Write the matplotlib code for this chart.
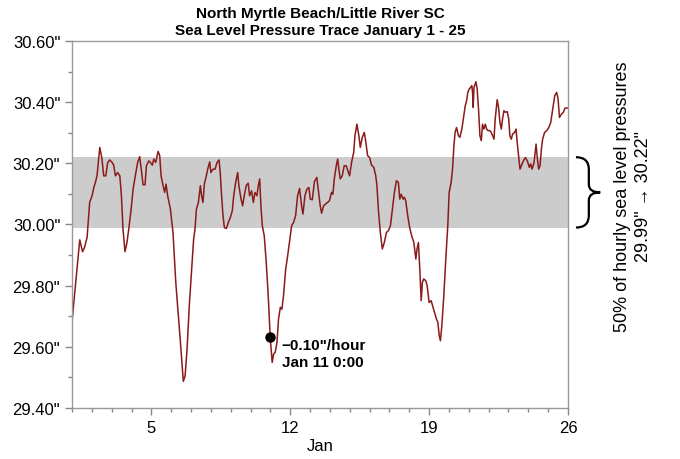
import numpy as np
import matplotlib
matplotlib.use("Agg")
import matplotlib.pyplot as plt
from matplotlib.path import Path
from matplotlib.patches import PathPatch
from matplotlib.transforms import blended_transform_factory

plt.rcParams['font.family'] = ['Liberation Sans', 'DejaVu Sans']

# hourly sea level pressure trace, day of January
days = [
    1.00, 1.39, 1.53, 1.63, 1.76, 1.89, 2.01, 2.10, 2.18, 2.26, 2.40, 2.50,
    2.60, 2.70, 2.80, 2.90, 3.02, 3.10, 3.19, 3.30, 3.41, 3.49, 3.57, 3.67,
    3.77, 3.86, 3.98, 4.08, 4.19, 4.31, 4.41, 4.51, 4.58, 4.68, 4.75, 4.87,
    4.95, 5.05, 5.12, 5.22, 5.29, 5.34, 5.42, 5.49, 5.59, 5.67, 5.74, 5.82,
    5.96, 6.09, 6.23, 6.36, 6.49, 6.61, 6.70, 6.80, 6.91, 7.03, 7.13, 7.20,
    7.27, 7.37, 7.47, 7.53, 7.60, 7.67, 7.77, 7.84, 7.94, 8.00, 8.11, 8.21,
    8.31, 8.41, 8.47, 8.54, 8.61, 8.68, 8.78, 8.88, 8.98, 9.08, 9.15, 9.25,
    9.35, 9.41, 9.52, 9.60, 9.68, 9.78, 9.88, 9.95, 10.05, 10.14, 10.22, 10.32,
    10.39, 10.46, 10.52, 10.59, 10.69, 10.79, 10.89, 10.99, 11.09, 11.16, 11.24, 11.33,
    11.41, 11.50, 11.58, 11.66, 11.77, 11.87, 11.97, 12.07, 12.17, 12.27, 12.37, 12.47,
    12.57, 12.64, 12.74, 12.84, 12.94, 13.01, 13.11, 13.22, 13.34, 13.41, 13.51, 13.58,
    13.68, 13.78, 13.88, 13.98, 14.08, 14.15, 14.22, 14.32, 14.39, 14.45, 14.52, 14.62,
    14.72, 14.82, 14.93, 14.99, 15.09, 15.20, 15.26, 15.36, 15.46, 15.53, 15.63, 15.73,
    15.80, 15.90, 16.00, 16.10, 16.21, 16.31, 16.37, 16.44, 16.54, 16.64, 16.74, 16.85,
    16.95, 17.05, 17.15, 17.25, 17.35, 17.45, 17.52, 17.59, 17.69, 17.75, 17.82, 17.92,
    18.02, 18.12, 18.23, 18.33, 18.39, 18.46, 18.53, 18.60, 18.66, 18.73, 18.83, 18.90,
    19.00, 19.10, 19.20, 19.30, 19.37, 19.44, 19.51, 19.57, 19.64, 19.74, 19.84, 19.94,
    20.01, 20.11, 20.18, 20.25, 20.31, 20.38, 20.48, 20.55, 20.65, 20.75, 20.82, 20.89,
    20.95, 21.02, 21.09, 21.15, 21.19, 21.22, 21.26, 21.36, 21.42, 21.49, 21.56, 21.63,
    21.69, 21.76, 21.83, 21.90, 21.96, 22.06, 22.13, 22.20, 22.27, 22.33, 22.43, 22.50,
    22.57, 22.64, 22.70, 22.77, 22.84, 22.94, 23.01, 23.07, 23.14, 23.21, 23.31, 23.38,
    23.44, 23.51, 23.58, 23.65, 23.75, 23.85, 23.95, 24.05, 24.12, 24.19, 24.29, 24.39,
    24.45, 24.52, 24.59, 24.66, 24.72, 24.82, 24.93, 25.03, 25.13, 25.23, 25.33, 25.43,
    25.50, 25.57, 25.67, 25.77, 25.84, 25.90, 26.00,
]
pressure = [
    29.682, 29.950, 29.911, 29.925, 29.958, 30.072, 30.094, 30.121, 30.138, 30.159, 30.252, 30.219,
    30.159, 30.159, 30.203, 30.211, 30.203, 30.194, 30.159, 30.170, 30.159, 30.094, 29.985, 29.911,
    29.941, 29.985, 30.050, 30.116, 30.159, 30.203, 30.222, 30.170, 30.130, 30.130, 30.192, 30.208,
    30.203, 30.194, 30.214, 30.203, 30.225, 30.239, 30.225, 30.159, 30.127, 30.105, 30.132, 30.094,
    30.050, 29.974, 29.811, 29.702, 29.593, 29.487, 29.505, 29.593, 29.734, 29.854, 29.952, 29.985,
    30.050, 30.072, 30.127, 30.094, 30.072, 30.132, 30.159, 30.181, 30.205, 30.170, 30.181, 30.181,
    30.203, 30.211, 30.170, 30.094, 30.029, 29.990, 29.987, 30.007, 30.023, 30.045, 30.094, 30.138,
    30.170, 30.127, 30.083, 30.061, 30.094, 30.127, 30.135, 30.094, 30.110, 30.072, 30.105, 30.094,
    30.127, 30.149, 30.061, 29.997, 29.963, 29.876, 29.767, 29.631, 29.549, 29.576, 29.582, 29.614,
    29.691, 29.729, 29.723, 29.767, 29.854, 29.898, 29.947, 29.996, 30.007, 30.029, 30.094, 30.118,
    30.061, 30.034, 30.094, 30.116, 30.121, 30.083, 30.081, 30.140, 30.154, 30.116, 30.061, 30.037,
    30.061, 30.067, 30.072, 30.078, 30.105, 30.099, 30.149, 30.192, 30.214, 30.181, 30.149, 30.159,
    30.192, 30.192, 30.170, 30.159, 30.203, 30.236, 30.290, 30.328, 30.290, 30.252, 30.285, 30.301,
    30.274, 30.225, 30.219, 30.194, 30.187, 30.159, 30.127, 30.050, 29.974, 29.920, 29.941, 29.974,
    29.980, 29.996, 30.050, 30.105, 30.143, 30.138, 30.083, 30.099, 30.083, 30.089, 30.078, 30.029,
    29.990, 29.963, 29.941, 29.887, 29.920, 29.941, 29.854, 29.751, 29.811, 29.822, 29.816, 29.800,
    29.745, 29.751, 29.729, 29.707, 29.691, 29.680, 29.636, 29.620, 29.669, 29.767, 29.887, 29.996,
    30.105, 30.138, 30.181, 30.258, 30.301, 30.317, 30.290, 30.285, 30.312, 30.356, 30.388, 30.405,
    30.432, 30.443, 30.448, 30.454, 30.432, 30.383, 30.448, 30.467, 30.443, 30.377, 30.290, 30.274,
    30.328, 30.312, 30.328, 30.312, 30.307, 30.307, 30.301, 30.290, 30.279, 30.345, 30.408, 30.383,
    30.334, 30.312, 30.345, 30.372, 30.367, 30.369, 30.345, 30.290, 30.279, 30.296, 30.301, 30.312,
    30.268, 30.225, 30.181, 30.192, 30.208, 30.219, 30.208, 30.187, 30.198, 30.181, 30.203, 30.263,
    30.219, 30.181, 30.192, 30.247, 30.279, 30.301, 30.307, 30.317, 30.334, 30.377, 30.421, 30.432,
    30.410, 30.350, 30.361, 30.367, 30.380, 30.381, 30.381,
]

# middle 50% of hourly pressures
band_low = 29.99
band_high = 30.22

# steepest drop marker
drop_day = 11.0
drop_value = 29.632
drop_text = '\u22120.10"/hour\nJan 11 0:00'

xticks_major = [5, 12, 19, 26]
yticks_major = [29.40, 29.60, 29.80, 30.00, 30.20, 30.40, 30.60]

fig = plt.figure(figsize=(6.8, 4.6), dpi=100)
ax = fig.add_axes([0.1059, 0.1109, 0.7294, 0.7978])

ax.axhspan(band_low, band_high, color='#cccccc', lw=0, zorder=0)
ax.plot(days, pressure, color='#8b1a1a', lw=1.1, zorder=2)
ax.plot(drop_day, drop_value, 'o', color='black', ms=6.5, zorder=3)
ax.annotate(drop_text, xy=(drop_day, drop_value), xytext=(8, -1),
            textcoords='offset points', ha='left', va='top',
            fontsize=11, fontweight='bold', linespacing=1.25)

ax.set_xlim(1, 26)
ax.set_ylim(29.4, 30.6)
ax.set_xticks(xticks_major)
ax.set_xticks(np.arange(1, 27), minor=True)
ax.set_yticks(yticks_major)
ax.set_yticklabels(['{:.2f}"'.format(v) for v in yticks_major])
ax.set_yticks(np.arange(29.4, 30.61, 0.1), minor=True)
ax.tick_params(which='both', direction='out', color='#888888', width=1,
               labelsize=12, labelcolor='black')
ax.tick_params(which='major', length=5)
ax.tick_params(which='minor', length=3)
for sp in ax.spines.values():
    sp.set_color('#999999')
    sp.set_linewidth(1)

ax.set_xlabel('Jan', fontsize=12, labelpad=2)
ax.set_title('North Myrtle Beach/Little River SC\nSea Level Pressure Trace January 1 - 25',
             fontsize=11, fontweight='bold', linespacing=1.3, pad=5)

# curly brace next to the band
trans = blended_transform_factory(ax.transAxes, ax.transData)
a, m, b = 1.016, 1.042, 1.065
ym = (band_low + band_high) / 2
r_end = 0.04
r_mid = 0.026
verts = [(a, band_high), (m, band_high), (m, band_high - r_end),
         (m, ym + r_mid), (m, ym), (b, ym),
         (m, ym), (m, ym - r_mid),
         (m, band_low + r_end), (m, band_low), (a, band_low)]
codes = [Path.MOVETO, Path.CURVE3, Path.CURVE3,
         Path.LINETO, Path.CURVE3, Path.CURVE3,
         Path.CURVE3, Path.CURVE3,
         Path.LINETO, Path.CURVE3, Path.CURVE3]
ax.add_patch(PathPatch(Path(verts, codes), transform=trans, fill=False,
                       lw=1.6, color='black', clip_on=False))

fig.text(0.931, 0.572, '50% of hourly sea level pressures\n29.99" \u2192 30.22"',
         rotation=90, ha='center', va='center', fontsize=13, linespacing=1.25)

fig.savefig('out.png', dpi=100)
